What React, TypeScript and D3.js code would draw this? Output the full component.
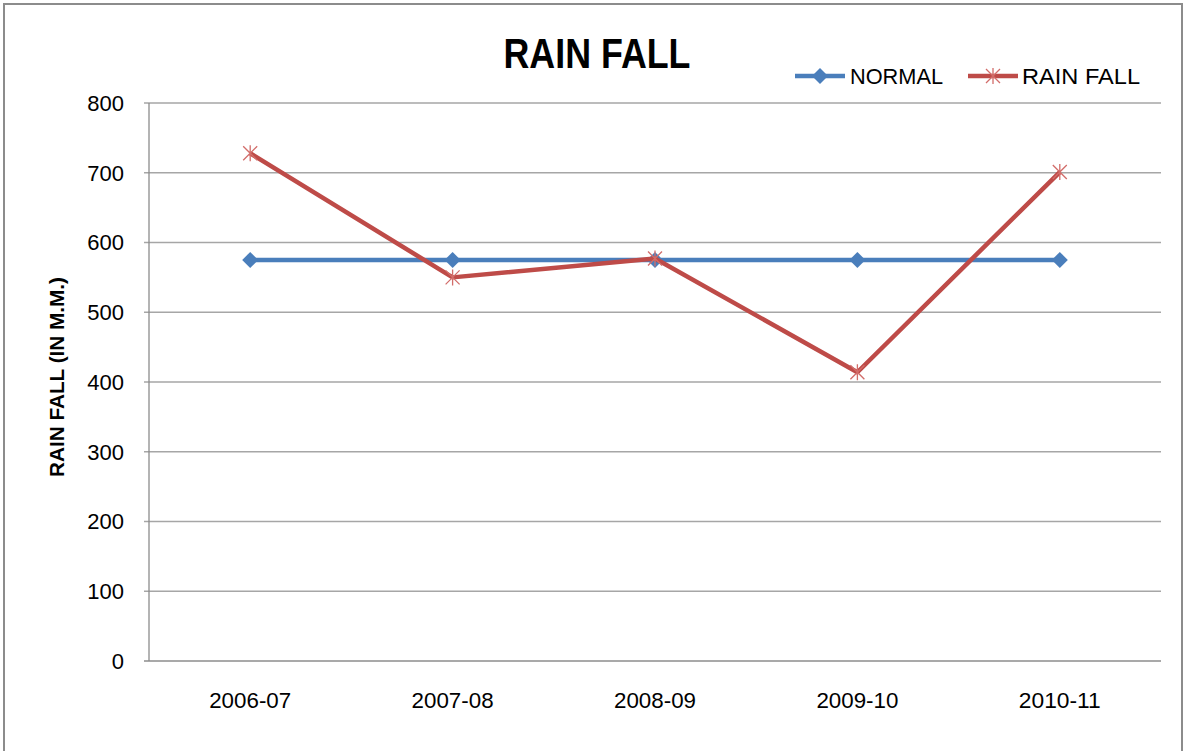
import React from "react";
import * as d3 from "d3";

const categories = ["2006-07", "2007-08", "2008-09", "2009-10", "2010-11"];
const normalValues = [575, 575, 575, 575, 575];
const rainFallValues = [728, 550, 577, 414, 701];
const yTicks = [0, 100, 200, 300, 400, 500, 600, 700, 800];
const seriesNames = ["NORMAL", "RAIN FALL"];
const chartTitle = "RAIN FALL";
const yAxisTitle = "RAIN FALL (IN M.M.)";

const W = 1187;
const H = 751;
const BLUE = "#4a7ebb";
const RED = "#be4b48";
const GRID = "#a6a6a6";
const FONT = "'Liberation Sans', Arial, sans-serif";

export default function App() {
  const left = 149, right = 1161, top = 103, bottom = 661;
  const x = d3.scaleBand<string>().domain(categories).range([left, right]);
  const y = d3.scaleLinear().domain([0, 800]).range([bottom, top]);
  const cx = (c: string) => (x(c) as number) + x.bandwidth() / 2;
  const line = d3.line<number>().x((_, i) => cx(categories[i])).y((v) => y(v));

  const diamond = (px: number, py: number, s: number, key: any) => (
    <path key={key} d={`M${px},${py - s}L${px + s},${py}L${px},${py + s}L${px - s},${py}Z`} fill={BLUE} />
  );
  const star = (px: number, py: number, s: number, key: any) => (
    <path
      key={key}
      d={`M${px - s},${py - s}L${px + s},${py + s}M${px - s},${py + s}L${px + s},${py - s}M${px},${py - s - 1}L${px},${py + s + 1}`}
      stroke="#d26d6a"
      strokeWidth={1.3}
      fill="none"
    />
  );

  return (
    <svg width={W} height={H} style={{ position: "absolute", left: 0, top: 0, background: "#fff" }}>
      <rect x={4} y={4} width={1178} height={760} fill="#fff" stroke="#8c8c8c" strokeWidth={2} />
      {yTicks.map((t) => (
        <line key={"g" + t} x1={left - 5} x2={right} y1={y(t)} y2={y(t)} stroke={t === 0 ? "#8c8c8c" : GRID} strokeWidth={1.3} />
      ))}
      <line x1={left} x2={left} y1={top} y2={bottom} stroke="#8c8c8c" strokeWidth={1.3} />
      {yTicks.map((t) => (
        <text key={"t" + t} x={124} y={y(t)} dy="0.36em" textAnchor="end" fontFamily={FONT} fontSize={22} fill="#000">
          {t}
        </text>
      ))}
      {categories.map((c) => (
        <text key={c} x={cx(c)} y={708} textAnchor="middle" fontFamily={FONT} fontSize={22} fill="#000" textLength={82} lengthAdjust="spacingAndGlyphs">
          {c}
        </text>
      ))}
      <text transform={`translate(64,377) rotate(-90)`} textAnchor="middle" fontFamily={FONT} fontSize={20} fontWeight="bold" textLength={200} lengthAdjust="spacingAndGlyphs">
        {yAxisTitle}
      </text>
      <text x={597} y={68} textAnchor="middle" fontFamily={FONT} fontSize={42} fontWeight="bold" fill="#000" textLength={187} lengthAdjust="spacingAndGlyphs">
        {chartTitle}
      </text>
      <path d={line(normalValues) as string} fill="none" stroke={BLUE} strokeWidth={4.5} />
      {normalValues.map((v, i) => diamond(cx(categories[i]), y(v), 8, "d" + i))}
      <path d={line(rainFallValues) as string} fill="none" stroke={RED} strokeWidth={4.5} strokeLinejoin="round" />
      {rainFallValues.map((v, i) => star(cx(categories[i]), y(v), 7, "s" + i))}
      <line x1={795} x2={845} y1={76} y2={76} stroke={BLUE} strokeWidth={4.5} />
      {diamond(820, 76, 8, "ld")}
      <text x={850} y={76} dy="0.36em" fontFamily={FONT} fontSize={22} textLength={93} lengthAdjust="spacingAndGlyphs">{seriesNames[0]}</text>
      <line x1={968} x2={1018} y1={76} y2={76} stroke={RED} strokeWidth={4.5} />
      {star(993, 76, 7, "ls")}
      <text x={1022} y={76} dy="0.36em" fontFamily={FONT} fontSize={22} textLength={118} lengthAdjust="spacingAndGlyphs">{seriesNames[1]}</text>
    </svg>
  );
}
